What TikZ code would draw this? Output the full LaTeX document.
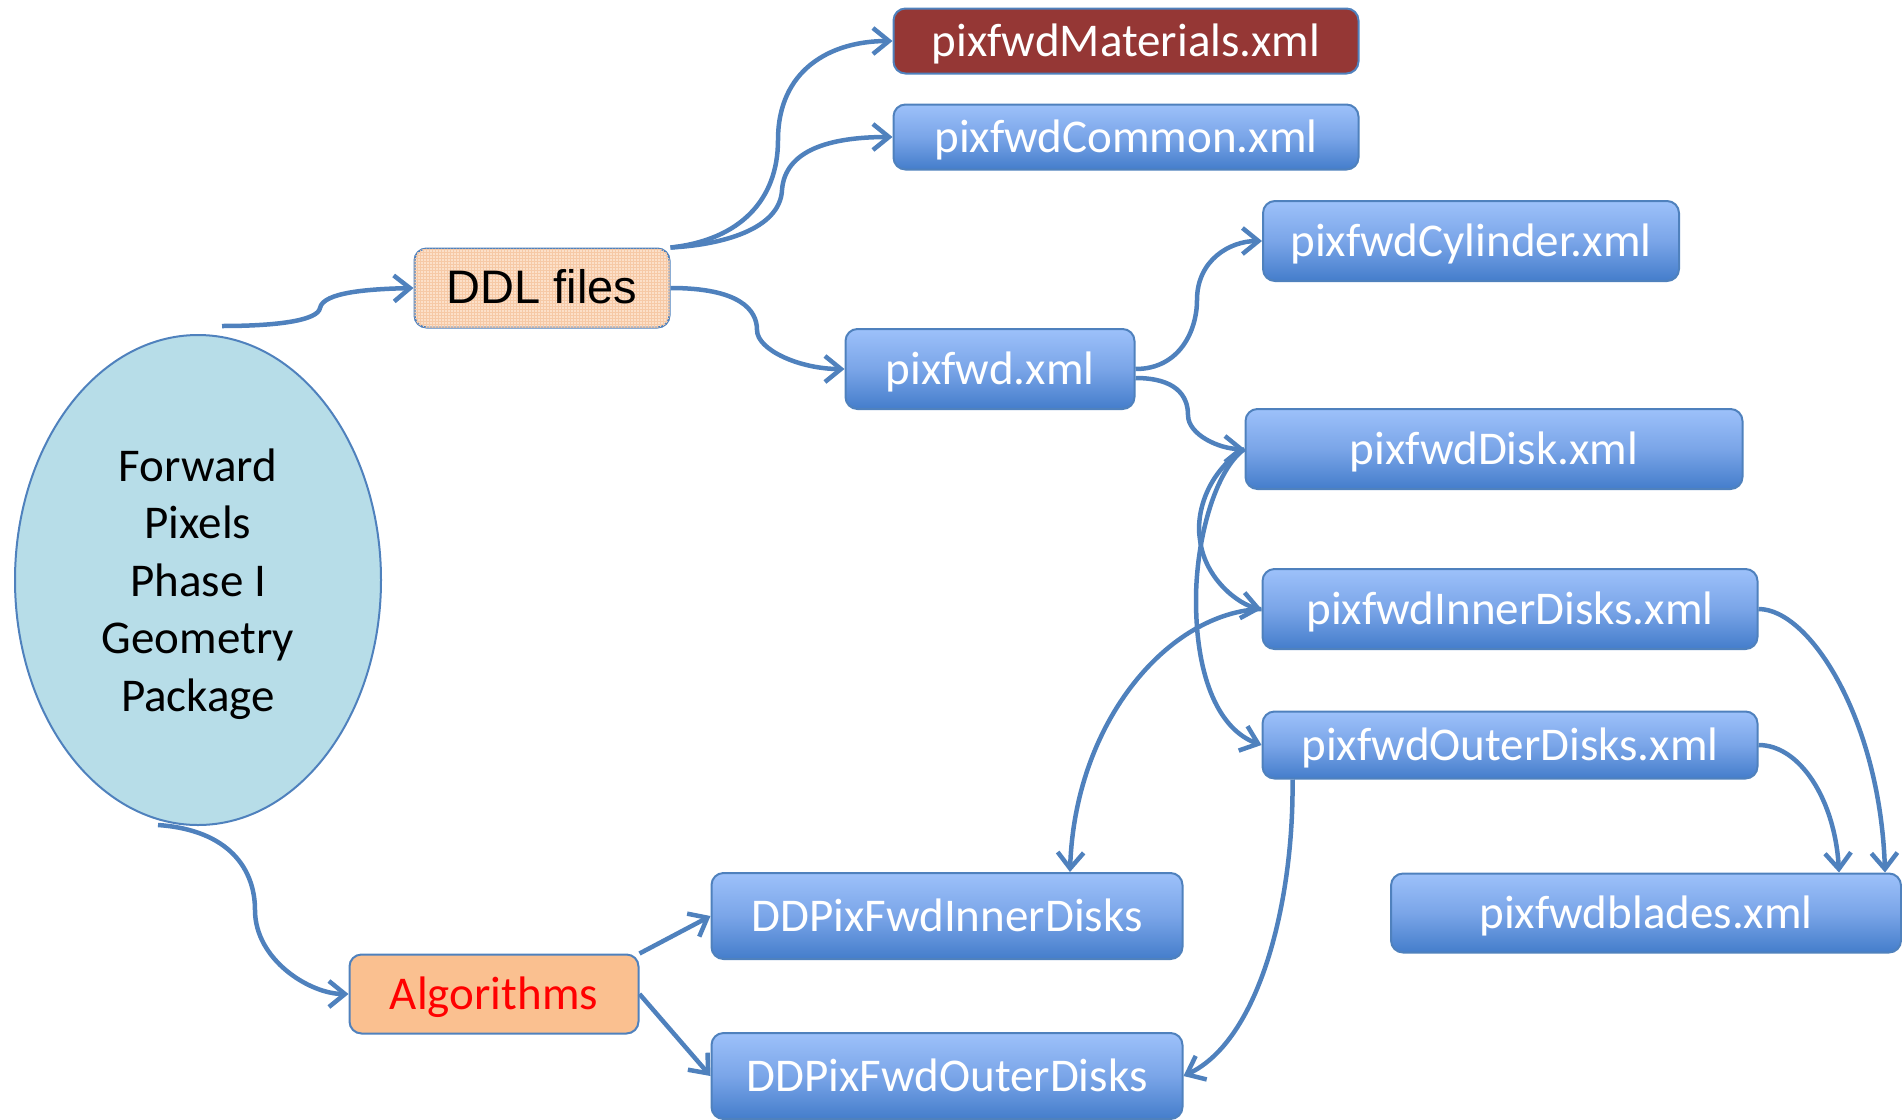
\documentclass[tikz,border=0pt]{standalone}
\usepackage{fontspec}
\setmainfont{Carlito}
\newfontfamily\arialf{Liberation Sans}
\usetikzlibrary{arrows.meta,shapes.geometric,patterns,calc}
\definecolor{lnblue}{HTML}{4F81BD}
\definecolor{boxtop}{HTML}{9DC1FA}
\definecolor{boxmid}{HTML}{7AA5E8}
\definecolor{boxbot}{HTML}{447DCB}
\definecolor{matred}{HTML}{953735}
\definecolor{ddlfill}{HTML}{FCE0C9}
\definecolor{ddlgrid}{HTML}{F6C9A6}
\definecolor{algfill}{HTML}{FAC090}
\definecolor{ellfill}{HTML}{B7DDE8}
\begin{document}
\begin{tikzpicture}[x=1pt,y=-1pt,
  bigfont/.style={font=\fontsize{47}{57.6}\selectfont},
  basebox/.style={draw=lnblue, line width=2pt, rounded corners=12pt, inner sep=0pt, bigfont, text height=31pt, text depth=0pt},
  bluebox/.style={basebox, top color=boxtop, bottom color=boxbot, middle color=boxmid, text=white},
  conn/.style={draw=lnblue, line width=4.5pt, -{Straight Barb[length=16pt,width=26pt,line width=4.5pt]}}
]
\useasboundingbox (0,0) rectangle (1902,1119);

% nodes
\node[ellipse, draw=lnblue, line width=2pt, fill=ellfill, minimum width=366pt, minimum height=490pt, inner sep=0pt, bigfont, align=center, text depth=0pt] (ell) at (198,580) {Forward\\Pixels\\Phase I\\Geometry\\Package};

\node[basebox, fill=matred, text=white, minimum width=465pt, minimum height=65pt] (mat) at (1126,41) {pixfwdMaterials.xml};
\node[bluebox, minimum width=465pt, minimum height=65pt] (com) at (1126,137) {pixfwdCommon.xml};
\node[bluebox, minimum width=416pt, minimum height=80pt] (cyl) at (1471,241) {pixfwdCylinder.xml};
\node[basebox, fill=ddlfill, postaction={pattern=grid, pattern color=ddlgrid}, minimum width=255pt, minimum height=79pt, font=\arialf\fontsize{47}{56}\selectfont, text=black] (ddl) at (542,288) {DDL files};
\node[bluebox, minimum width=289pt, minimum height=80pt] (pix) at (990,369) {pixfwd.xml};
\node[bluebox, minimum width=497pt, minimum height=80pt] (disk) at (1494,449) {pixfwdDisk.xml};
\node[bluebox, minimum width=495pt, minimum height=80pt] (inner) at (1510,609) {pixfwdInnerDisks.xml};
\node[bluebox, minimum width=495pt, minimum height=67pt] (outer) at (1510,745) {pixfwdOuterDisks.xml};
\node[bluebox, minimum width=510pt, minimum height=79pt] (blades) at (1646,913) {pixfwdblades.xml};
\node[bluebox, minimum width=471pt, minimum height=86pt] (ddin) at (947,916) {DDPixFwdInnerDisks};
\node[bluebox, minimum width=471pt, minimum height=86pt] (ddout) at (947,1076) {DDPixFwdOuterDisks};
\node[basebox, fill=algfill, text=red, minimum width=289pt, minimum height=79pt] (alg) at (494,994) {Algorithms};

\coordinate (etop) at (222,326);
\coordinate (ebot) at (158,825);

% connectors
\draw[conn] (etop) .. controls (280,326) and (318,320) .. (320,308) .. controls (323,292) and (370,289) .. (ddl.west);
\draw[conn] (ebot) .. controls (230,830) and (255,870) .. (255,910) .. controls (255,960) and (310,994) .. (alg.west);
\draw[conn] (ddl.north east) .. controls (740,240) and (778,200) .. (778,140) .. controls (778,70) and (830,41) .. (mat.west);
\draw[conn] (ddl.north east) .. controls (720,245) and (780,230) .. (782,190) .. controls (785,150) and (830,137) .. (com.west);
\draw[conn] (ddl.east) .. controls (740,288) and (757,310) .. (757,330) .. controls (757,350) and (800,369) .. (pix.west);
\draw[conn] (pix.east) .. controls (1180,369) and (1197,330) .. (1197,300) .. controls (1197,260) and (1230,241) .. (cyl.west);
\draw[conn] ($(pix.east)+(0,9)$) .. controls (1175,378) and (1188,395) .. (1188,415) .. controls (1188,435) and (1220,449) .. (disk.west);
\draw[conn] (disk.west) .. controls (1210,470) and (1195,510) .. (1200,540) .. controls (1205,580) and (1240,605) .. (inner.west);
\draw[conn] (disk.west) .. controls (1215,470) and (1196,540) .. (1196,600) .. controls (1196,680) and (1220,730) .. (outer.west);
\draw[conn] (inner.east) .. controls (1810,609) and (1880,720) .. ($(blades.north east)+(-17,0)$);
\draw[conn] (outer.east) .. controls (1800,745) and (1835,800) .. ($(blades.north east)+(-63,0)$);
\draw[conn] (inner.west) .. controls (1170,612) and (1075,720) .. ($(ddin.north)+(123,0)$);
\draw[conn] ($(outer.south west)+(31,0)$) .. controls (1294,900) and (1260,1040) .. (ddout.east);
\draw[conn] (alg.north east) -- (ddin.west);
\draw[conn] (alg.east) -- (ddout.west);
\end{tikzpicture}
\end{document}
